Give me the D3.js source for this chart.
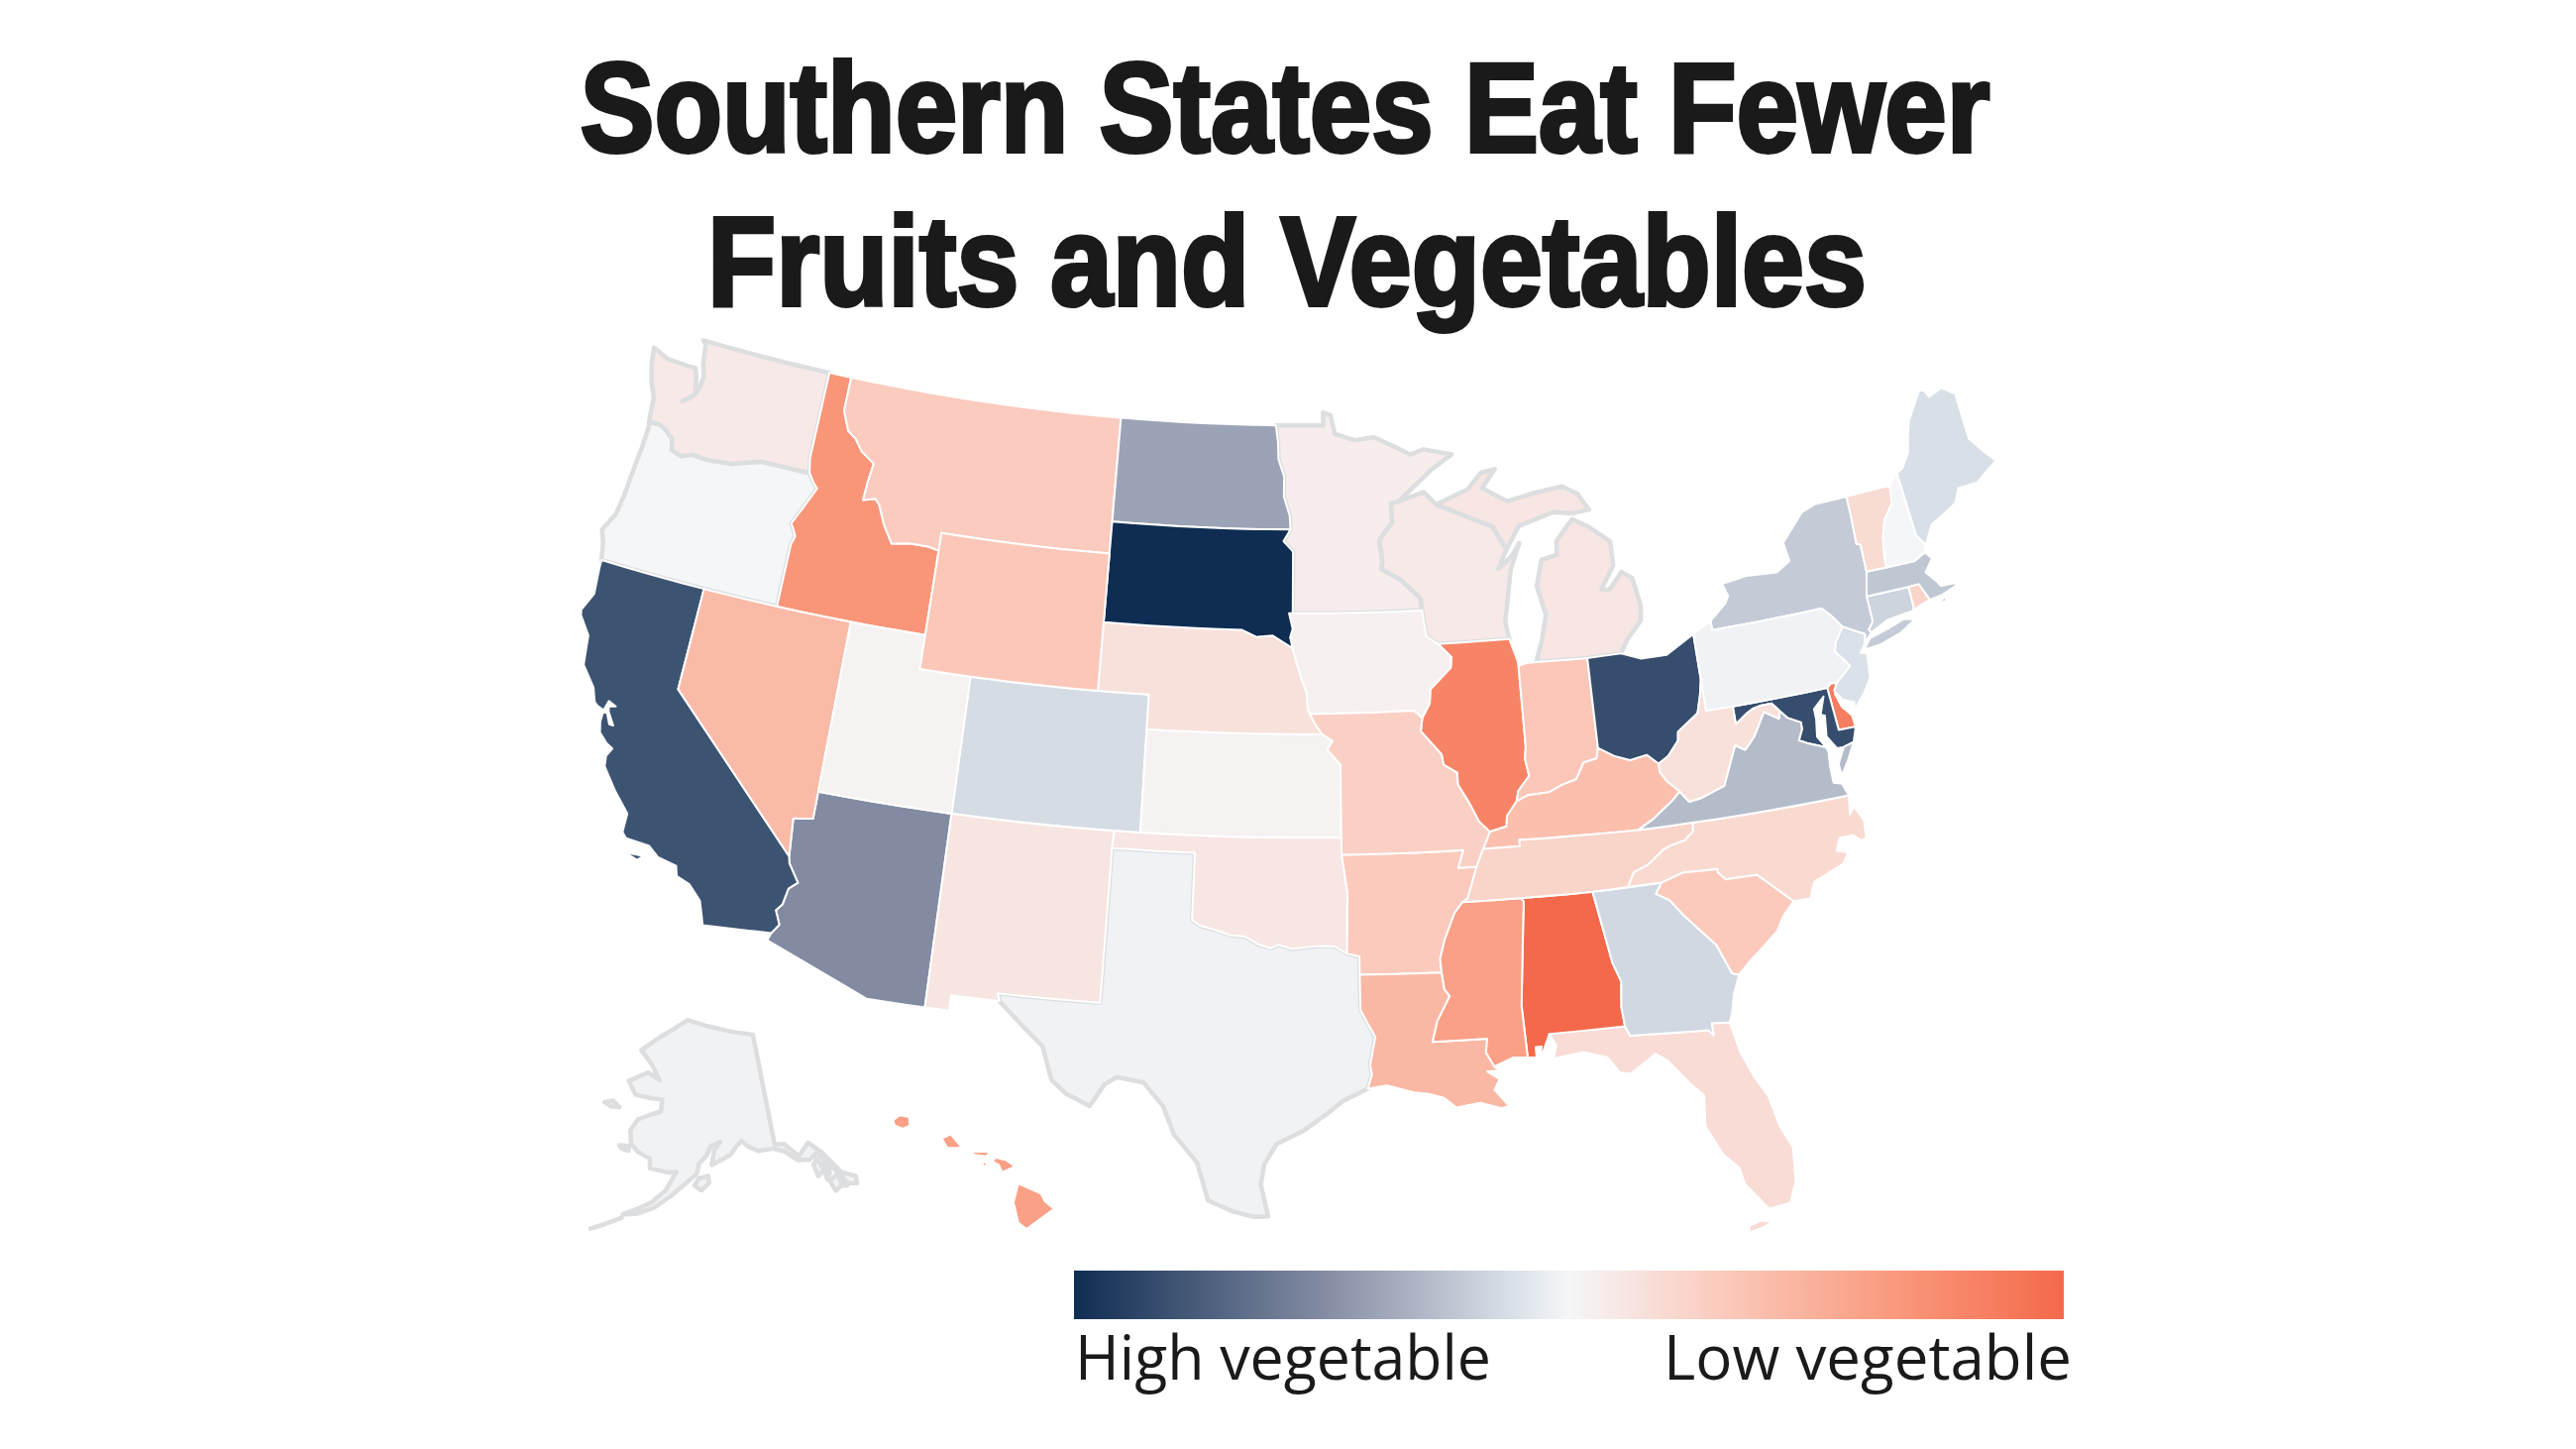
<!DOCTYPE html>
<html>
<head>
<meta charset="utf-8">
<script src="https://cdn.jsdelivr.net/npm/d3@7"></script>
<style>
  html, body { margin: 0; background: #fff; }
</style>
</head>
<body>
<div id="chart"></div>
<script>
const WIDTH = 2600;
const HEIGHT = 1462;

const TITLE_LINES = ["Southern States Eat Fewer", "Fruits and Vegetables"];
const LEGEND_LABELS = ["High vegetable", "Low vegetable"];

// Score read from the fill of each state: -1 high vegetable, +1 low vegetable.
const STATE_CODES = ["AL","AK","AZ","AR","CA","CO","CT","DE","DC","FL","GA","HI","ID","IL","IN","IA","KS","KY","LA","ME","MD","MA","MI","MN","MS","MO","MT","NE","NV","NH","NJ","NM","NY","NC","ND","OH","OK","OR","PA","RI","SC","SD","TN","TX","UT","VT","VA","WA","WV","WI","WY"];
const STATE_VALUES = [1.0,-0.02,-0.5,0.31,-0.8,-0.135,-0.17,0.86,0.7,0.18,-0.15,0.61,0.68,0.81,0.33,0.04,0.03,0.39,0.44,-0.12,-0.83,-0.23,0.11,0.06,0.61,0.27,0.3,0.15,0.42,0.0,-0.11,0.12,-0.21,0.2,-0.39,-0.83,0.11,0.0,-0.02,0.24,0.31,-1.0,0.24,-0.02,0.03,0.19,-0.28,0.09,0.15,0.09,0.33];

const SCORE_DOMAIN = [-1, -0.5, -0.12, 0, 0.33, 0.68, 1];
const SCORE_COLORS = ["#0f2d52", "#828ba2", "#d8dfe7", "#f5f6f8", "#fbc7b8", "#f99679", "#f4694b"];

// These pale states carry a grey outline on the coast in the original.
const GREY_EDGE = ["WA","OR","MN","WI","MI","TX","AK"];

// Shared borders, in [lon, lat].
const COLUMBIA = [[-124.0,46.26],[-123.5,46.26],[-123.2,46.15],[-122.85,45.95],[-122.76,45.65],[-122.3,45.55],[-121.9,45.68],[-121.2,45.65],[-120.2,45.72],[-119.3,45.93],[-118.98,46.0],[-116.92,46.0]];
const SNAKE = [[-116.92,46.0],[-116.67,45.75],[-116.47,45.6],[-116.85,45.0],[-117.2,44.45],[-117.03,44.25],[-116.93,44.1],[-117.03,43.83],[-117.03,42]];
const BITTERROOT = [[-116.05,48],[-115.7,47.45],[-115.3,47.25],[-114.95,46.93],[-114.35,46.65],[-114.45,46.1],[-114.5,45.55],[-114.0,45.65],[-113.8,45.5],[-113.45,44.95],[-113.0,44.45],[-112.3,44.55],[-111.5,44.55],[-111.05,44.48]];
const COLORADO_R = [[-114.63,35],[-114.57,34.8],[-114.14,34.3],[-114.43,34.08],[-114.53,33.6],[-114.72,33.4],[-114.5,33],[-114.72,32.72]];
const RED_N = [[-97.23,49],[-97.13,48.5],[-97.1,48],[-96.85,47.5],[-96.85,46.9],[-96.6,46.35],[-96.56,45.94]];
const SD_MN = [[-96.56,45.94],[-96.85,45.6],[-96.45,45.3],[-96.45,43.5]];
const SIOUX = [[-96.45,43.5],[-96.6,43.5],[-96.45,43.05],[-96.55,42.8],[-96.45,42.49]];
const MO_SD_NE = [[-98.5,43],[-97.9,42.8],[-97.25,42.85],[-96.7,42.6],[-96.45,42.49]];
const MO_IA_NE = [[-96.45,42.49],[-96.35,42.2],[-96.1,41.6],[-95.9,41.2],[-95.85,40.7],[-95.77,40.58]];
const MO_NE = [[-95.77,40.58],[-95.55,40.26],[-95.31,40]];
const MO_KS = [[-95.31,40],[-94.9,39.8],[-95.1,39.55],[-94.61,39.11]];
const RED_S = [[-94.48,33.64],[-94.9,33.85],[-95.3,33.87],[-95.8,33.85],[-96.4,33.78],[-96.9,33.9],[-97.2,33.8],[-97.6,33.9],[-98.1,34.13],[-98.6,34.15],[-99.2,34.3],[-99.7,34.4],[-100,34.56]];
const SABINE = [[-94.04,32],[-93.8,31.6],[-93.55,31.2],[-93.75,30.4],[-93.7,30.1],[-93.85,29.7]];
const MN_WI = [[-92.3,46.66],[-92.29,46.1],[-92.85,45.6],[-92.75,45],[-92.8,44.75],[-92,44.4],[-91.25,43.85],[-91.22,43.5]];
const MISS_IA_WI = [[-91.22,43.5],[-91.1,42.75],[-90.65,42.5]];
const MISS_IA_IL = [[-90.65,42.5],[-90.15,42.1],[-90.2,41.8],[-91.05,41.2],[-91.1,40.8],[-91.42,40.38]];
const MISS_MO_IL = [[-91.42,40.38],[-91.5,40],[-90.75,39.3],[-90.7,39],[-90.2,38.75],[-90.2,38.4],[-89.85,37.9],[-89.5,37.3],[-89.13,36.98]];
const MISS_TN_AR = [[-89.7,36],[-90.1,35.1],[-90.3,35]];
const MISS_AR_MS = [[-90.3,35],[-90.6,34.7],[-91,33.95],[-91.2,33.4],[-91.17,33]];
const MISS_LA_MS = [[-91.17,33],[-91.1,32.5],[-90.93,32.3],[-91.4,31.6],[-91.6,31]];
const PEARL = [[-89.73,31],[-89.8,30.6],[-89.55,30.18]];
const CHATTAHOOCHEE = [[-85.18,32.87],[-84.95,32.3],[-85.05,31.55],[-85,31]];
const PERDIDO = [[-87.6,31],[-87.4,30.65],[-87.52,30.28]];
const SAVANNAH = [[-83.1,35],[-83.35,34.7],[-82.9,34.47],[-82.5,34],[-82,33.5],[-81.5,33],[-81.1,32.1],[-80.87,32.03]];
const NC_SC = [[-83.1,35],[-82.3,35.2],[-81.04,35.15],[-81.04,35.05],[-80.8,34.82],[-79.67,34.8],[-78.55,33.86]];
const TN_NC = [[-81.68,36.59],[-81.7,36.35],[-82.05,36.12],[-82.6,36.03],[-82.9,35.93],[-83.5,35.57],[-84.05,35.4],[-84.32,35]];
const KY_VA = [[-83.68,36.6],[-83.1,36.85],[-82.3,37.3],[-81.97,37.54]];
const KY_WV = [[-81.97,37.54],[-82.4,37.9],[-82.6,38.17],[-82.6,38.42]];
const VA_WV = [[-77.83,39.13],[-78.35,39.4],[-78.87,38.76],[-79.3,38.42],[-79.65,38.6],[-80.3,37.5],[-81.25,37.25],[-81.68,37.2],[-81.97,37.54]];
const POTOMAC = [[-76.3,38.05],[-76.9,38.25],[-77.25,38.4],[-77.05,38.7],[-77.04,38.9],[-77.5,39.1],[-77.75,39.35]];
const MD_WV = [[-77.75,39.35],[-78,39.6],[-78.4,39.6],[-78.75,39.55],[-79,39.45],[-79.48,39.2]];
const OHIO_OH_WV = [[-80.52,40.64],[-80.65,40.2],[-80.85,39.7],[-81.7,39.25],[-81.75,39],[-82.2,38.6],[-82.6,38.42]];
const OHIO_OH_KY = [[-82.6,38.42],[-83,38.72],[-83.65,38.63],[-84.2,38.8],[-84.8,39.1]];
const OHIO_IN_KY = [[-84.8,39.1],[-84.9,38.8],[-85.4,38.73],[-85.75,38.27],[-86.3,38.15],[-86.8,37.98],[-87.6,37.95],[-88.05,37.8]];
const OHIO_IL_KY = [[-88.05,37.8],[-88.45,37.4],[-88.5,37.1],[-89.13,36.98]];
const WABASH = [[-87.53,39.35],[-87.6,39],[-87.5,38.5],[-87.95,38.1],[-88.05,37.8]];
const WI_UP = [[-90.4,46.56],[-89.1,46.13],[-88.7,46],[-88.1,45.8],[-87.6,45.1]];
const DELAWARE_R = [[-75.35,42],[-75.05,41.75],[-74.7,41.36]];
const PA_NJ = [[-74.7,41.36],[-75.1,40.95],[-75.2,40.7],[-74.75,40.2],[-75.4,39.8]];
const VT_NH = [[-71.5,45.01],[-71.6,44.5],[-72.05,44.1],[-72.3,43.6],[-72.45,43],[-72.46,42.73]];
const NY_VT = [[-73.35,45.01],[-73.35,44.5],[-73.4,43.6],[-73.25,43.55],[-73.27,42.75]];

const back = line => line.slice().reverse();

const AL = [[[-88.2,35],[-85.6,34.98],...CHATTAHOOCHEE,...back(PERDIDO),[-88,30.23],[-87.9,30.65],[-88.1,30.65],[-88.1,30.35],[-88.4,30.37],[-88.47,31.9],[-88.1,34.9]]];
const AK = [
  [[-141,69.65],[-141,60.3],[-139.5,60.2],[-137.5,58.9],[-135.5,59.8],[-133.8,58.7],[-131.8,56.6],[-130,55.9],[-130.2,55.3],[-131.5,55.6],[-132.2,56.6],[-133.4,57.6],[-134.5,58.8],[-135.2,58.6],[-136,58.4],[-137.8,58.6],[-139.7,59.6],[-141.5,60],[-143.9,60],[-145.5,60.5],[-146.5,61],[-147.5,60.6],[-148.5,60],[-149.7,59.7],[-151.8,59.2],[-151.3,60.4],[-150.2,61.1],[-151.8,60.8],[-152.6,60],[-153.9,59.3],[-154.2,58.5],[-156.3,57.5],[-158.3,56.5],[-160.5,55.5],[-163,54.8],[-164.9,54.6],[-163,55.2],[-161,55.9],[-159,57],[-157.5,58.6],[-158.8,58.5],[-161.8,58.7],[-162,59.5],[-164,59.9],[-165.5,60.5],[-166,61.6],[-165,62.6],[-163,63.1],[-161,63.5],[-161,64.5],[-163,64.5],[-166.3,64.6],[-168.1,65.6],[-164.5,66.6],[-162,66.1],[-163.8,67.2],[-166.8,68.35],[-163,69.7],[-160,70.5],[-156.7,71.35],[-152,70.85],[-146,70.2]],
  [[-154.6,57.5],[-153.9,58.1],[-152.4,58.3],[-152.3,57.7],[-153.5,57.1]],
  [[-171.7,63.4],[-170.2,63.7],[-168.8,63.3],[-170.3,63.2]],
  [[-167.4,60.2],[-165.7,60.3],[-165.7,59.9],[-166.9,59.95]],
  [[-165,54.3],[-167.5,53.4],[-169,52.9],[-167,53.6]],
  [[-135.6,57.9],[-134.8,58.3],[-134.3,57.2],[-135.4,56.9]],
  [[-134.3,57.8],[-133.8,57.9],[-133.5,56.9],[-134.2,56.4]],
  [[-133.9,56.2],[-132.6,56.6],[-132.3,55.6],[-133.5,55.3]],
  [[-132.4,56.4],[-131.9,56.3],[-131.7,55.4],[-132.2,55.5]]
];
const AZ = [[[-114.04,37],[-109.05,37],[-109.05,31.33],[-111.07,31.33],[-114.81,32.49],...back(COLORADO_R),[-114.75,36.1],[-114.04,36.2]]];
const AR = [[[-94.62,36.5],[-90.15,36.5],[-90.37,36],...MISS_TN_AR,...MISS_AR_MS,[-94.04,33.02],[-94.04,33.55],[-94.48,33.64],[-94.43,35.4]]];
const CA = [
  [[-124.21,42],[-120,42],[-120,39],...COLORADO_R,[-117.12,32.53],[-117.25,32.85],[-117.4,33.2],[-117.9,33.6],[-118.4,33.75],[-118.5,34.03],[-119.2,34.15],[-119.6,34.4],[-120.47,34.45],[-120.65,34.6],[-120.65,35.15],[-121.3,35.7],[-121.9,36.3],[-121.95,36.6],[-121.8,36.85],[-122.05,36.95],[-122.4,37.2],[-122.5,37.5],[-122.5,37.78],[-122.35,37.8],[-122.15,37.5],[-122,37.5],[-122.3,37.85],[-122.35,38],[-122.1,38.05],[-122.4,38.15],[-122.5,37.85],[-122.75,37.92],[-122.9,38],[-123.1,38.4],[-123.7,38.95],[-123.85,39.8],[-124.35,40.3],[-124.4,40.45],[-124.1,41],[-124.2,41.75]],
  [[-120.4,34.05],[-119.7,34.08],[-119.9,33.92]]
];
const CO = [[[-109.05,41],[-102.05,41],[-102.05,37],[-109.05,37]]];
const CT = [[[-73.5,42.05],[-71.8,42.02],[-71.8,41.4],[-71.86,41.32],[-72.9,41.25],[-73.65,41],[-73.73,41.1],[-73.5,41.3]]];
const DE = [[[-75.79,39.72],[-75.6,39.84],[-75.4,39.8],[-75.55,39.5],[-75.4,39.1],[-75.1,38.8],[-75.05,38.45],[-75.7,38.46]]];
const DC = [[[-77.12,38.93],[-77.04,39],[-76.91,38.89],[-77.04,38.79]]];
const FL = [
  [...PERDIDO.slice(0,1),[-85,31],[-84.86,30.71],[-82.2,30.57],[-82.05,30.4],[-82.05,30.75],[-81.44,30.7],[-81.25,29.8],[-80.9,29],[-80.55,28.4],[-80.35,27.5],[-80.03,26.8],[-80.13,25.8],[-80.4,25.2],[-81.1,25.13],[-81.75,25.95],[-81.85,26.45],[-82.3,26.9],[-82.75,27.8],[-82.65,28.7],[-83.1,29.15],[-83.7,29.85],[-84.1,30.1],[-84.35,29.95],[-85,29.6],[-85.35,29.68],[-85.7,30.15],[-86.5,30.38],...back(PERDIDO).slice(0,2)],
  [[-81.85,24.52],[-81.4,24.6],[-81.05,24.72],[-81.4,24.82],[-81.8,24.72]]
];
const GA = [[[-85.6,34.98],...SAVANNAH,[-81.15,31.5],[-81.3,31],[-81.44,30.7],[-82.05,30.75],[-82.05,30.4],[-82.2,30.57],[-84.86,30.71],...back(CHATTAHOOCHEE)]];
const HI = [
  [[-155.9,20.25],[-155.2,19.95],[-155.08,19.73],[-154.8,19.5],[-155.65,18.92],[-155.9,19.1],[-156.05,19.7]],
  [[-156.7,20.9],[-156.6,21.02],[-156.25,20.93],[-156,20.75],[-156.4,20.58],[-156.5,20.8]],
  [[-157.3,21.2],[-156.75,21.18],[-156.9,21.05],[-157.3,21.1]],
  [[-157.05,20.9],[-156.85,20.85],[-156.95,20.73]],
  [[-158.28,21.57],[-158,21.7],[-157.65,21.3],[-158.1,21.3]],
  [[-159.8,22.1],[-159.6,22.25],[-159.3,22.2],[-159.28,21.95],[-159.5,21.85],[-159.75,21.95]]
];
const ID = [[[-117.03,49],[-116.05,49],...BITTERROOT,[-111.05,42],...back(SNAKE),[-117.04,46.42]]];
const IL = [[[-90.65,42.5],[-87.8,42.5],[-87.55,41.85],[-87.53,41.7],...WABASH,...OHIO_IL_KY,...back(MISS_MO_IL),...back(MISS_IA_IL)]];
const IN = [[[-87.53,41.7],[-87.2,41.76],[-86.82,41.76],[-84.8,41.72],...OHIO_IN_KY,...back(WABASH)]];
const IA = [[[-96.6,43.5],[-91.22,43.5],...MISS_IA_WI,...MISS_IA_IL,[-91.73,40.61],...back(MO_IA_NE),...back(SIOUX).slice(0,-1)]];
const KS = [[[-102.05,40],...MO_KS,[-94.62,37],[-102.04,37]]];
const KY = [[[-89.42,36.5],[-88.07,36.5],[-88.07,36.68],...KY_VA,...KY_WV,...OHIO_OH_KY,...OHIO_IN_KY,...OHIO_IL_KY]];
const LA = [[[-94.04,33.02],...MISS_LA_MS,...PEARL,[-89.4,30.05],[-89.8,30.05],[-89.4,29.8],[-89.6,29.5],[-89.15,29],[-89.4,28.95],[-90.1,29.15],[-90.9,29.05],[-91.3,29.35],[-91.85,29.5],[-92.3,29.55],[-93.2,29.78],...back(SABINE)]];
const ME = [[[-71.08,45.3],[-70.8,45.4],[-70.4,45.8],[-70.25,46.2],[-70,46.7],[-69.23,47.46],[-69.05,47.43],[-68.9,47.2],[-68.3,47.35],[-67.8,47.07],[-67.8,45.7],[-67.45,45.3],[-67,44.85],[-68,44.4],[-68.8,44.4],[-69.1,44],[-69.8,43.75],[-70.25,43.6],[-70.7,43.07],[-70.98,43.4]]];
const MD = [[[-79.48,39.72],[-75.79,39.72],[-75.7,38.46],[-75.05,38.45],[-75.25,38.03],[-75.65,37.95],[-75.9,37.95],[-76.2,38.35],[-76.1,38.95],[-76.25,39],[-76,39.5],[-76.45,39.2],[-76.45,38.9],[-76.55,38.4],...POTOMAC,...MD_WV]];
const MA = [
  [[-73.5,42.05],[-73.27,42.75],[-72.46,42.73],[-71.3,42.7],[-70.82,42.87],[-70.6,42.65],[-71,42.3],[-70.65,41.95],[-70.55,41.8],[-70,41.78],[-70.2,42.08],[-69.95,41.7],[-70.6,41.55],[-71.12,41.5],[-71.2,41.67],[-71.38,42.02],[-71.8,42.02]],
  [[-70.83,41.35],[-70.5,41.47],[-70.5,41.35]],
  [[-70.2,41.3],[-69.97,41.3],[-70,41.24]]
];
const MI = [
  [[-86.82,41.76],[-84.8,41.72],[-83.45,41.73],[-83.15,42.1],[-82.5,42.6],[-82.42,43],[-82.6,43.85],[-83,44.07],[-83.6,43.6],[-83.9,43.65],[-83.3,44.3],[-83.3,45],[-84.1,45.5],[-84.75,45.78],[-85,45.6],[-85.5,45.2],[-85.55,44.8],[-86.2,44.7],[-86.5,43.95],[-86.25,43.1],[-86.5,42.4]],
  [...WI_UP,[-87,45.75],[-86.5,45.85],[-85.5,46.05],[-84.7,45.95],[-84,46],[-84.4,46.5],[-85,46.77],[-86.2,46.67],[-87.4,46.5],[-88.4,46.95],[-87.8,47.47],[-88.4,47.4],[-89,46.95]]
];
const MN = [[[-97.23,49],[-95.15,49],[-95.15,49.38],[-94.82,49.3],[-94.65,48.75],[-93.8,48.55],[-92.95,48.62],[-92,48.3],[-91.4,48.07],[-90.8,48.2],[-89.6,48],[-90.5,47.6],[-91.5,47],[-92,46.7],...MN_WI,[-96.45,43.5],...back(SD_MN),...back(RED_N).slice(0,-1)]];
const MS = [[[-90.3,35],[-88.2,35],[-88.1,34.9],[-88.47,31.9],[-88.4,30.37],[-88.9,30.4],[-89.55,30.18],...back(PEARL),...back(MISS_LA_MS),...back(MISS_AR_MS).slice(0,-1)]];
const MO = [[[-95.77,40.58],[-91.73,40.61],...MISS_MO_IL,[-89.42,36.5],[-89.7,36],[-90.37,36],[-90.15,36.5],[-94.62,36.5],[-94.62,37],...back(MO_KS),...back(MO_NE).slice(0,-1)]];
const MT = [[[-116.05,49],[-104.05,49],[-104.05,45],[-111.05,45],...back(BITTERROOT)]];
const NE = [[[-104.05,43],...MO_SD_NE,...MO_IA_NE,...MO_NE,[-102.05,40],[-102.05,41],[-104.05,41]]];
const NV = [[[-120,42],[-114.04,42],[-114.04,36.2],[-114.75,36.1],[-114.63,35],[-120,39]]];
const NH = [[[-71.5,45.01],[-71.08,45.3],[-70.98,43.4],[-70.7,43.07],[-70.82,42.87],[-71.3,42.7],...back(VT_NH)]];
const NJ = [[[-74.7,41.36],[-73.9,41],[-74.03,40.7],[-74.25,40.5],[-74,40.45],[-74.1,39.75],[-74.4,39.4],[-74.95,38.93],[-74.9,39.15],[-75.3,39.3],[-75.55,39.6],...back(PA_NJ).slice(0,-1)]];
const NM = [[[-109.05,37],[-103,37],[-103.04,36.5],[-103.06,32],[-106.62,32],[-106.53,31.78],[-108.21,31.78],[-108.21,31.33],[-109.05,31.33]]];
const NY = [
  [[-79.76,42.27],[-79.05,42.7],[-78.9,42.9],[-79.05,43.27],[-78,43.37],[-76.8,43.3],[-76.2,43.55],[-76.3,44.1],[-75.3,44.85],[-74.7,45],...NY_VT,[-73.5,42.05],[-73.5,41.3],[-73.73,41.1],[-73.65,41],[-73.93,40.8],[-74,40.7],[-73.9,41],[-74.7,41.36],...back(DELAWARE_R),[-79.76,42]],
  [[-74.03,40.6],[-73.75,40.85],[-73.1,40.97],[-72.3,41.15],[-71.87,41.07],[-72.5,40.8],[-73.4,40.6],[-74,40.57]]
];
const NC = [[...TN_NC,...NC_SC,[-77.95,33.85],[-77.7,34.3],[-76.55,34.65],[-76.3,34.95],[-76.7,35.05],[-76.5,35.4],[-76,35.4],[-75.75,35.2],[-75.55,35.25],[-75.5,35.75],[-75.75,36.2],[-75.95,36],[-75.85,36.55]]];
const ND = [[[-104.05,49],...RED_N,[-104.05,45.94]]];
const OH = [[[-84.8,41.72],[-83.45,41.73],[-82.7,41.5],[-81.7,41.5],[-80.52,41.98],...OHIO_OH_WV,...OHIO_OH_KY]];
const OK = [[[-103,37],[-94.62,37],[-94.62,36.5],[-94.43,35.4],...RED_S,[-100,36.5],[-103.04,36.5]]];
const OR = [[...COLUMBIA,...SNAKE.slice(1),[-124.21,42],[-124.36,42.5],[-124.55,42.84],[-124.2,43.4],[-124.1,44],[-124.05,44.7],[-123.97,45.5],[-123.95,46.15]]];
const PA = [[[-80.52,41.98],[-79.76,42.27],[-79.76,42],...DELAWARE_R,...PA_NJ.slice(1),[-75.6,39.84],[-75.79,39.72],[-80.52,39.72],[-80.52,40.64]]];
const RI = [[[-71.8,42.02],[-71.38,42.02],[-71.2,41.67],[-71.12,41.5],[-71.4,41.45],[-71.86,41.32],[-71.8,41.4]]];
const SC = [[...NC_SC,[-79,33.5],[-79.3,33.1],[-79.9,32.7],[-80.45,32.35],...back(SAVANNAH)]];
const SD = [[[-104.05,45.94],[-96.56,45.94],...SD_MN.slice(1),...SIOUX.slice(1),...back(MO_SD_NE),[-104.05,43]]];
const TN = [[[-90.3,35],[-88.2,35],[-85.6,34.98],...back(TN_NC),[-83.68,36.6],[-88.07,36.68],[-88.07,36.5],[-89.42,36.5],[-89.7,36],[-90.1,35.1]]];
const TX = [[[-103.04,36.5],[-100,36.5],...back(RED_S),[-94.04,33.55],[-94.04,33.02],...SABINE,[-94.7,29.35],[-95.2,29],[-96,28.5],[-96.9,28.1],[-97.3,27.5],[-97.4,26.9],[-97.15,25.97],[-97.6,25.95],[-98.3,26.1],[-99.1,26.4],[-99.5,27.5],[-100.3,28.3],[-100.7,29.1],[-101.4,29.77],[-102.3,29.88],[-102.7,29.65],[-103.15,28.98],[-104,29.3],[-104.5,29.65],[-104.9,30.6],[-105.6,31.1],[-106.53,31.78],[-106.62,32],[-103.06,32]]];
const UT = [[[-114.04,42],[-111.05,42],[-111.05,41],[-109.05,41],[-109.05,37],[-114.04,37]]];
const VT = [[[-73.35,45.01],...VT_NH,...back(NY_VT).slice(0,-1)]];
const VA = [
  [[-83.68,36.6],[-81.68,36.59],[-75.85,36.55],[-76,36.92],[-76.3,37],[-76.3,37.5],[-76.25,37.9],...POTOMAC,...VA_WV,...back(KY_VA).slice(0,-1)],
  [[-75.65,37.95],[-75.25,38.03],[-75.6,37.55],[-75.95,37.15],[-75.97,37.5]]
];
const WA = [[[-122.76,49],[-117.03,49],[-117.04,46.42],...back(COLUMBIA),[-124.07,46.65],[-124.1,46.95],[-124.4,47.4],[-124.62,47.9],[-124.73,48.38],[-124,48.17],[-123.1,48.15],[-122.75,48.15],[-122.6,47.9],[-122.45,47.4],[-122.9,47.1],[-122.55,47.3],[-122.35,47.6],[-122.3,47.95],[-122.5,48.4],[-122.6,48.9]]];
const WV = [[[-80.52,40.64],[-80.52,39.72],[-79.48,39.72],...back(MD_WV),...VA_WV,...KY_WV,...back(OHIO_OH_WV)]];
const WI = [[[-92.3,46.66],[-92,46.7],[-90.9,46.95],...WI_UP,[-88,44.55],[-87.4,44.9],[-87.05,45.25],[-87.5,44.5],[-87.9,43],[-87.8,42.5],[-90.65,42.5],...back(MISS_IA_WI),...back(MN_WI).slice(0,-1)]];
const WY = [[[-111.05,45],[-104.05,45],[-104.05,41],[-111.05,41]]];

const STATE_RINGS = [AL,AK,AZ,AR,CA,CO,CT,DE,DC,FL,GA,HI,ID,IL,IN,IA,KS,KY,LA,ME,MD,MA,MI,MN,MS,MO,MT,NE,NV,NH,NJ,NM,NY,NC,ND,OH,OK,OR,PA,RI,SC,SD,TN,TX,UT,VT,VA,WA,WV,WI,WY];

// Straight east-west borders follow a parallel, not a great circle.
function followParallels(ring) {
  const out = [];
  ring.forEach((p, i) => {
    const q = ring[(i + 1) % ring.length];
    out.push(p);
    const dLon = q[0] - p[0];
    if (Math.abs(q[1] - p[1]) < 0.2 && Math.abs(dLon) > 1) {
      const steps = Math.ceil(Math.abs(dLon));
      d3.range(1, steps).forEach(s => {
        out.push([p[0] + dLon * s / steps, p[1] + (q[1] - p[1]) * s / steps]);
      });
    }
  });
  return out;
}

function toPolygon(ring) {
  const closed = followParallels(ring);
  closed.push(closed[0]);
  // d3-geo wants rings clockwise; otherwise the polygon covers the globe.
  return d3.geoArea({type: "Polygon", coordinates: [closed]}) > 2 * Math.PI ? [closed.reverse()] : [closed];
}

const features = STATE_CODES.map((code, i) => ({
  type: "Feature",
  id: code,
  properties: {value: STATE_VALUES[i]},
  geometry: {type: "MultiPolygon", coordinates: STATE_RINGS[i].map(toPolygon)}
}));
// Grey-edged states go first so that white borders of their neighbours lie on top.
features.sort((a, b) => GREY_EDGE.includes(b.id) - GREY_EDGE.includes(a.id));

const color = d3.scaleLinear().domain(SCORE_DOMAIN).range(SCORE_COLORS);
const projection = d3.geoAlbersUsa().scale(1980).translate([1300, 786]);
const path = d3.geoPath().projection(projection);

const svg = d3.select("#chart").append("svg")
    .attr("width", WIDTH)
    .attr("height", HEIGHT)
    .style("display", "block");

svg.append("g").selectAll("text")
    .data(TITLE_LINES)
    .enter().append("text")
    .attr("x", (d, i) => [1297, 1299][i])
    .attr("y", (d, i) => [153, 308][i])
    .attr("text-anchor", "middle")
    .attr("textLength", (d, i) => [1423, 1170][i])
    .attr("lengthAdjust", "spacingAndGlyphs")
    .style("font-family", "'Liberation Sans Narrow', 'Liberation Sans', sans-serif")
    .style("font-weight", 700)
    .style("font-size", "128px")
    .style("fill", "#1a1a1a")
    .style("stroke", "#1a1a1a")
    .style("stroke-width", 4)
    .text(d => d);

svg.append("g").selectAll("path")
    .data(features)
    .enter().append("path")
    .attr("d", path)
    .attr("fill", d => color(d.properties.value))
    .attr("stroke", d => GREY_EDGE.includes(d.id) ? "#dcdee0" : "#fff")
    .attr("stroke-width", d => GREY_EDGE.includes(d.id) ? 4.5 : 2)
    .attr("stroke-linejoin", "round");

// Legend
const gradient = svg.append("defs").append("linearGradient").attr("id", "legend-gradient");
gradient.selectAll("stop")
    .data(SCORE_DOMAIN)
    .enter().append("stop")
    .attr("offset", d => (d + 1) / 2)
    .attr("stop-color", d => color(d));

svg.append("rect")
    .attr("x", 1084)
    .attr("y", 1282)
    .attr("width", 999)
    .attr("height", 49)
    .attr("fill", "url(#legend-gradient)");

svg.append("g").selectAll("text")
    .data(LEGEND_LABELS)
    .enter().append("text")
    .attr("x", (d, i) => [1085, 1679][i])
    .attr("y", 1392)
    .attr("textLength", (d, i) => [420, 412][i])
    .attr("lengthAdjust", "spacingAndGlyphs")
    .style("font-family", "'Open Sans', sans-serif")
    .style("font-size", "63px")
    .style("fill", "#1a1a1a")
    .text(d => d);
</script>
</body>
</html>
